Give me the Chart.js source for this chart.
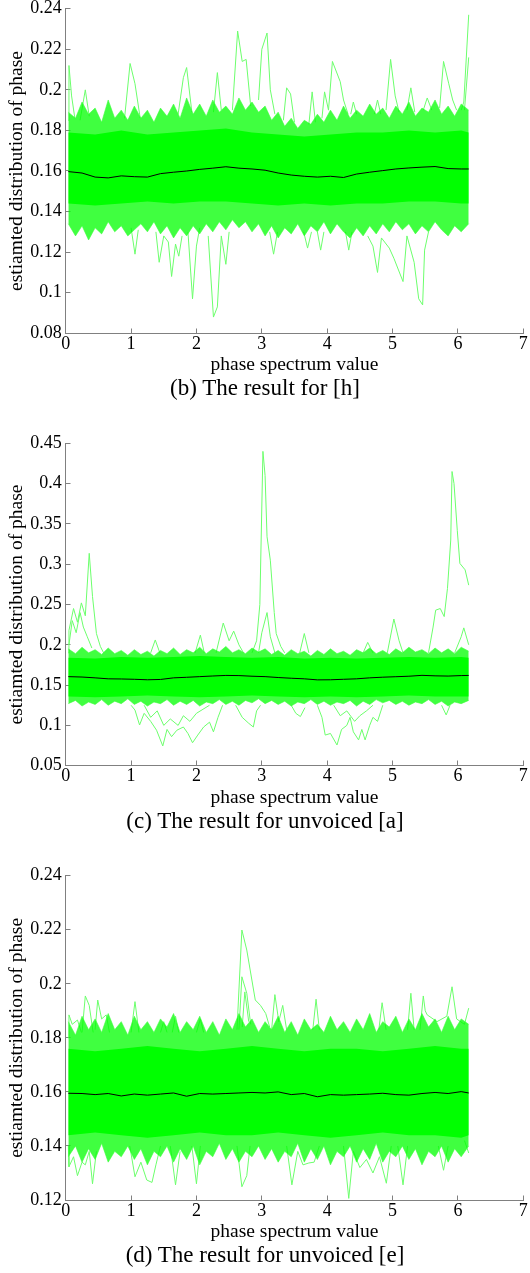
<!DOCTYPE html>
<html>
<head>
<meta charset="utf-8">
<title>estimated phase distribution</title>
<script src="https://cdn.jsdelivr.net/npm/chart.js@4.4.1/dist/chart.umd.min.js"></script>
<style>
  html, body { margin: 0; padding: 0; background: #fff; }
  body { position: relative; width: 530px; height: 1273px; overflow: hidden; }
  canvas { position: absolute; left: 0; }
  .caption {
    position: absolute; left: 0; width: 530px; text-align: center; white-space: nowrap;
    font-family: 'Liberation Serif', 'Times New Roman', serif; font-size: 23px; line-height: 23px; color: #000;
  }
</style>
</head>
<body>
<canvas id="chartH" width="530" height="377" style="top:0px"></canvas>
<div class="caption" style="top:376px">(b) The result for [h]</div>
<canvas id="chartA" width="530" height="376" style="top:434px"></canvas>
<div class="caption" style="top:809px">(c) The result for unvoiced [a]</div>
<canvas id="chartE" width="530" height="378" style="top:866px"></canvas>
<div class="caption" style="top:1243px">(d) The result for unvoiced [e]</div>

<script>
// ---------- axis ticks ----------
const xTickValues = [0, 1, 2, 3, 4, 5, 6, 7];
const xTickLabels = ['0', '1', '2', '3', '4', '5', '6', '7'];
const hTickValues = [0.08, 0.10, 0.12, 0.14, 0.16, 0.18, 0.20, 0.22, 0.24];
const hTickLabels = ['0.08', '0.1', '0.12', '0.14', '0.16', '0.18', '0.2', '0.22', '0.24'];
const aTickValues = [0.05, 0.10, 0.15, 0.20, 0.25, 0.30, 0.35, 0.40, 0.45];
const aTickLabels = ['0.05', '0.1', '0.15', '0.2', '0.25', '0.3', '0.35', '0.4', '0.45'];
const eTickValues = [0.12, 0.14, 0.16, 0.18, 0.20, 0.22, 0.24];
const eTickLabels = ['0.12', '0.14', '0.16', '0.18', '0.2', '0.22', '0.24'];

// ---------- phase positions (x) ----------
const phaseX = [0.04,0.15,0.25,0.35,0.45,0.55,0.65,0.75,0.85,0.95,1.05,1.15,1.25,1.35,1.45,1.55,1.65,1.75,1.85,1.95,
  2.05,2.15,2.25,2.35,2.45,2.55,2.65,2.75,2.85,2.95,3.05,3.15,3.25,3.35,3.45,3.55,3.65,3.75,3.85,3.95,
  4.05,4.15,4.25,4.35,4.45,4.55,4.65,4.75,4.85,4.95,5.05,5.15,5.25,5.35,5.45,5.55,5.65,5.75,5.85,5.95,6.05,6.165];
const coreX = [0.04,0.45,0.85,1.25,1.65,2.05,2.45,2.85,3.25,3.65,4.05,4.45,4.85,5.25,5.65,6.05,6.165];
const meanX = [0.04,0.25,0.45,0.65,0.85,1.05,1.25,1.45,1.65,1.85,2.05,2.25,2.45,2.65,2.85,3.05,
  3.25,3.45,3.65,3.85,4.05,4.25,4.45,4.65,4.85,5.05,5.25,5.45,5.65,5.85,6.05,6.165];

// ---------- (b) [h] ----------
const hOuterHi = [0.189,0.186,0.194,0.188,0.191,0.184,0.195,0.186,0.190,0.185,
  0.192,0.186,0.190,0.184,0.191,0.187,0.193,0.186,0.196,0.188,
  0.193,0.187,0.195,0.189,0.192,0.188,0.196,0.190,0.194,0.189,
  0.192,0.185,0.189,0.182,0.186,0.181,0.185,0.183,0.188,0.184,
  0.190,0.185,0.192,0.186,0.190,0.187,0.193,0.188,0.191,0.186,
  0.192,0.188,0.194,0.187,0.191,0.189,0.195,0.188,0.192,0.187,0.193,0.190];
const hOuterLo = [0.134,0.128,0.133,0.126,0.132,0.129,0.135,0.130,0.133,0.128,
  0.131,0.134,0.130,0.135,0.129,0.133,0.127,0.132,0.128,0.133,
  0.129,0.134,0.130,0.135,0.131,0.136,0.132,0.135,0.130,0.134,
  0.128,0.133,0.127,0.132,0.129,0.134,0.128,0.133,0.130,0.135,
  0.129,0.134,0.130,0.127,0.132,0.128,0.133,0.129,0.134,0.130,
  0.135,0.131,0.134,0.129,0.133,0.130,0.135,0.131,0.128,0.133,0.130,0.134];
const hCoreHi = [0.179,0.178,0.180,0.178,0.179,0.180,0.181,0.179,0.178,0.177,0.178,0.179,0.179,0.180,0.179,0.180,0.179];
const hCoreLo = [0.144,0.143,0.144,0.145,0.144,0.145,0.145,0.144,0.143,0.144,0.143,0.144,0.144,0.145,0.145,0.144,0.144];
const hMean = [0.1597,0.1590,0.1570,0.1566,0.1576,0.1572,0.1570,0.1587,0.1594,0.1600,
  0.1608,0.1614,0.1621,0.1614,0.1610,0.1604,0.1590,0.1580,0.1574,0.1570,
  0.1574,0.1568,0.1585,0.1594,0.1602,0.1610,0.1615,0.1619,0.1622,0.1612,0.1610,0.1610];
const hSpikes = [
  [[0.04,0.185],[0.05,0.212],[0.09,0.197],[0.14,0.186]],
  [[0.22,0.185],[0.30,0.200],[0.36,0.187]],
  [[0.90,0.186],[0.985,0.213],[1.06,0.203],[1.14,0.186]],
  [[1.72,0.188],[1.80,0.206],[1.85,0.211],[1.93,0.189]],
  [[2.26,0.189],[2.32,0.2085],[2.38,0.190]],
  [[2.55,0.190],[2.63,0.229],[2.70,0.214],[2.76,0.215],[2.83,0.192]],
  [[2.95,0.195],[3.00,0.220],[3.08,0.228],[3.13,0.200],[3.20,0.188]],
  [[3.33,0.185],[3.38,0.201],[3.44,0.198],[3.50,0.184]],
  [[3.72,0.183],[3.77,0.199],[3.82,0.184]],
  [[3.92,0.186],[3.96,0.199],[4.02,0.190],[4.08,0.214],[4.20,0.204],[4.25,0.195],[4.32,0.188]],
  [[4.36,0.188],[4.40,0.194],[4.45,0.188]],
  [[4.72,0.188],[4.77,0.195],[4.82,0.188]],
  [[4.90,0.190],[4.97,0.215],[5.04,0.197],[5.10,0.189]],
  [[5.22,0.190],[5.28,0.201],[5.34,0.189]],
  [[5.47,0.190],[5.53,0.196],[5.60,0.190]],
  [[5.72,0.191],[5.78,0.214],[5.86,0.203],[5.92,0.195],[5.98,0.190]],
  [[6.05,0.190],[6.09,0.194],[6.165,0.237]],
  [[6.10,0.190],[6.165,0.216]],
  [[1.00,0.132],[1.06,0.119],[1.11,0.131]],
  [[1.38,0.130],[1.43,0.115],[1.50,0.128],[1.57,0.125],[1.62,0.108],[1.68,0.124],[1.73,0.118],[1.78,0.128]],
  [[1.87,0.130],[1.94,0.097],[2.00,0.123],[2.05,0.132]],
  [[2.18,0.128],[2.26,0.088],[2.32,0.093],[2.38,0.128],[2.45,0.114],[2.50,0.130]],
  [[3.12,0.130],[3.18,0.119],[3.24,0.130]],
  [[3.64,0.130],[3.70,0.122],[3.76,0.130]],
  [[3.85,0.130],[3.90,0.121],[3.95,0.130]],
  [[4.28,0.130],[4.33,0.121],[4.38,0.130]],
  [[4.62,0.128],[4.70,0.123],[4.77,0.110],[4.83,0.127],[4.95,0.122],[5.02,0.117],[5.16,0.1055],[5.22,0.128],
   [5.33,0.115],[5.40,0.097],[5.46,0.094],[5.49,0.121],[5.55,0.130]]
];

// ---------- (c) unvoiced [a] ----------
const aOuterHi = [0.195,0.189,0.197,0.190,0.194,0.188,0.196,0.189,0.193,0.187,
  0.194,0.188,0.192,0.186,0.193,0.189,0.196,0.188,0.194,0.190,
  0.197,0.189,0.195,0.191,0.198,0.190,0.194,0.189,0.196,0.191,
  0.195,0.188,0.193,0.187,0.194,0.189,0.192,0.186,0.193,0.188,
  0.195,0.189,0.192,0.187,0.194,0.190,0.196,0.189,0.193,0.188,
  0.195,0.190,0.197,0.191,0.194,0.189,0.196,0.190,0.195,0.189,0.197,0.192];
const aOuterLo = [0.127,0.131,0.124,0.129,0.126,0.132,0.125,0.130,0.127,0.133,
  0.126,0.130,0.124,0.129,0.127,0.132,0.125,0.130,0.126,0.131,
  0.124,0.129,0.127,0.132,0.126,0.130,0.125,0.131,0.128,0.133,
  0.127,0.131,0.126,0.130,0.124,0.129,0.127,0.132,0.126,0.130,
  0.125,0.129,0.127,0.131,0.124,0.130,0.126,0.132,0.128,0.131,
  0.126,0.130,0.125,0.129,0.127,0.132,0.126,0.130,0.124,0.129,0.127,0.131];
const aCoreHi = [0.184,0.183,0.185,0.184,0.185,0.186,0.185,0.184,0.185,0.183,0.184,0.183,0.184,0.185,0.184,0.185,0.184];
const aCoreLo = [0.136,0.135,0.136,0.137,0.136,0.135,0.136,0.137,0.136,0.135,0.136,0.135,0.136,0.137,0.136,0.136,0.136];
const aMean = [0.1605,0.1600,0.1590,0.1578,0.1576,0.1572,0.1566,0.1570,0.1590,0.1597,
  0.1605,0.1613,0.1620,0.1618,0.1610,0.1605,0.1594,0.1585,0.1578,0.1565,
  0.1566,0.1572,0.1578,0.1590,0.1598,0.1604,0.1610,0.1621,0.1615,0.1612,0.1618,0.1620];
const aSpikes = [
  [[0.04,0.190],[0.05,0.218],[0.12,0.245],[0.18,0.228],[0.24,0.252],[0.30,0.236],[0.36,0.3135],[0.41,0.260],
   [0.47,0.214],[0.53,0.198],[0.58,0.190]],
  [[0.05,0.200],[0.10,0.230],[0.16,0.215],[0.22,0.240],[0.27,0.222],[0.33,0.210],[0.40,0.196]],
  [[1.30,0.190],[1.37,0.206],[1.44,0.190]],
  [[1.98,0.190],[2.06,0.212],[2.12,0.190]],
  [[2.30,0.190],[2.41,0.227],[2.50,0.205],[2.57,0.217],[2.65,0.200],[2.72,0.190]],
  [[2.85,0.190],[2.92,0.205],[2.97,0.250],[3.017,0.440],[3.05,0.410],[3.08,0.334],[3.13,0.305],[3.19,0.240],
   [3.22,0.214],[3.29,0.198],[3.35,0.190]],
  [[2.95,0.190],[3.00,0.215],[3.08,0.240],[3.13,0.210],[3.20,0.190]],
  [[3.58,0.190],[3.65,0.214],[3.72,0.190]],
  [[4.55,0.190],[4.62,0.203],[4.70,0.190]],
  [[4.92,0.190],[5.02,0.232],[5.10,0.205],[5.16,0.190]],
  [[5.55,0.190],[5.62,0.222],[5.66,0.243],[5.73,0.245],[5.79,0.235],[5.84,0.270],[5.89,0.330],[5.91,0.415],
   [5.94,0.400],[5.99,0.342],[6.03,0.301],[6.11,0.293],[6.165,0.274]],
  [[5.95,0.190],[6.05,0.210],[6.09,0.221],[6.165,0.200]],
  [[1.00,0.125],[1.06,0.119],[1.13,0.1005],[1.20,0.115],[1.30,0.105],[1.39,0.094],[1.485,0.0745],[1.55,0.095],
   [1.62,0.086],[1.70,0.094],[1.80,0.098],[1.87,0.090],[1.94,0.0785],[2.02,0.088],[2.11,0.098],[2.20,0.104],
   [2.26,0.092],[2.33,0.110],[2.40,0.125]],
  [[1.20,0.125],[1.30,0.110],[1.40,0.118],[1.50,0.100],[1.60,0.108],[1.72,0.100],[1.80,0.112],[1.90,0.105],
   [2.00,0.115],[2.10,0.120],[2.20,0.125]],
  [[2.60,0.125],[2.70,0.110],[2.80,0.1026],[2.87,0.098],[2.92,0.118],[2.98,0.125]],
  [[3.45,0.125],[3.52,0.115],[3.59,0.111],[3.66,0.122]],
  [[3.85,0.125],[3.92,0.110],[3.97,0.088],[4.05,0.090],[4.15,0.0757],[4.22,0.095],[4.30,0.100],[4.35,0.110],
   [4.40,0.092],[4.48,0.082],[4.53,0.095],[4.58,0.082],[4.65,0.100],[4.70,0.110],[4.77,0.105],[4.85,0.125]],
  [[4.10,0.125],[4.20,0.112],[4.30,0.118],[4.42,0.105],[4.50,0.112],[4.60,0.118],[4.70,0.125]],
  [[5.75,0.125],[5.82,0.113],[5.88,0.125]]
];

// ---------- (d) unvoiced [e] ----------
const eOuterHi = [0.186,0.181,0.188,0.183,0.187,0.182,0.189,0.183,0.186,0.181,
  0.188,0.183,0.186,0.182,0.187,0.184,0.189,0.182,0.186,0.183,
  0.188,0.182,0.186,0.181,0.187,0.183,0.189,0.184,0.187,0.182,
  0.186,0.183,0.188,0.182,0.186,0.181,0.187,0.183,0.185,0.182,
  0.188,0.183,0.186,0.182,0.187,0.183,0.189,0.182,0.186,0.184,
  0.188,0.182,0.187,0.183,0.189,0.184,0.187,0.182,0.188,0.183,0.187,0.185];
const eOuterLo = [0.136,0.140,0.134,0.139,0.135,0.141,0.134,0.138,0.136,0.140,
  0.135,0.139,0.133,0.138,0.136,0.140,0.134,0.139,0.135,0.140,
  0.133,0.138,0.136,0.141,0.135,0.139,0.134,0.138,0.136,0.140,
  0.135,0.139,0.134,0.138,0.136,0.141,0.134,0.139,0.135,0.140,
  0.133,0.138,0.136,0.140,0.134,0.139,0.135,0.141,0.134,0.138,
  0.136,0.140,0.135,0.139,0.133,0.138,0.136,0.140,0.134,0.139,0.136,0.140];
const eCoreHi = [0.176,0.175,0.176,0.177,0.176,0.175,0.176,0.177,0.176,0.175,0.176,0.176,0.175,0.176,0.177,0.176,0.176];
const eCoreLo = [0.144,0.145,0.144,0.143,0.144,0.145,0.144,0.144,0.145,0.144,0.143,0.144,0.145,0.144,0.144,0.143,0.144];
const eMean = [0.1595,0.1594,0.1590,0.1594,0.1585,0.1592,0.1588,0.1592,0.1596,0.1584,
  0.1594,0.1592,0.1594,0.1596,0.1598,0.1596,0.1600,0.1590,0.1594,0.1582,
  0.1590,0.1588,0.1590,0.1592,0.1595,0.1590,0.1588,0.1594,0.1598,0.1594,0.1601,0.1596];
const eSpikes = [
  [[0.04,0.180],[0.05,0.1885],[0.10,0.185],[0.18,0.1866],[0.24,0.182]],
  [[0.25,0.182],[0.30,0.1955],[0.36,0.192],[0.42,0.182]],
  [[0.45,0.183],[0.49,0.194],[0.55,0.187],[0.62,0.1885],[0.67,0.182]],
  [[1.00,0.182],[1.06,0.1934],[1.12,0.182]],
  [[1.45,0.182],[1.50,0.186],[1.55,0.182]],
  [[1.63,0.182],[1.68,0.188],[1.73,0.182]],
  [[2.00,0.182],[2.06,0.187],[2.11,0.182]],
  [[2.62,0.183],[2.695,0.2199],[2.77,0.2125],[2.90,0.194],[2.98,0.192],[3.06,0.189],[3.12,0.184]],
  [[2.65,0.183],[2.695,0.2026],[2.77,0.1965],[2.83,0.185]],
  [[2.70,0.184],[2.74,0.197],[2.80,0.186]],
  [[3.15,0.183],[3.20,0.196],[3.26,0.186],[3.32,0.192],[3.38,0.183]],
  [[3.78,0.183],[3.83,0.1943],[3.88,0.183]],
  [[4.79,0.183],[4.84,0.193],[4.90,0.183]],
  [[5.23,0.183],[5.28,0.1965],[5.33,0.183]],
  [[5.42,0.183],[5.47,0.1955],[5.50,0.190],[5.53,0.1885],[5.68,0.186],[5.83,0.188],[5.91,0.1989],[5.98,0.187],
   [6.10,0.185],[6.165,0.191]],
  [[0.04,0.140],[0.05,0.1323],[0.12,0.136],[0.18,0.129],[0.25,0.134],[0.30,0.133],[0.36,0.138],[0.41,0.126],[0.47,0.138]],
  [[0.98,0.140],[1.06,0.1286],[1.15,0.134],[1.24,0.1274],[1.32,0.1265],[1.38,0.133],[1.45,0.140]],
  [[1.60,0.140],[1.68,0.1256],[1.75,0.138]],
  [[1.93,0.140],[2.00,0.126],[2.06,0.140]],
  [[2.62,0.140],[2.695,0.1249],[2.77,0.129],[2.82,0.140]],
  [[3.38,0.140],[3.46,0.1256],[3.55,0.138],[3.63,0.133],[3.72,0.1337],[3.80,0.134],[3.88,0.140]],
  [[4.25,0.140],[4.33,0.1206],[4.40,0.138],[4.50,0.132],[4.60,0.135],[4.70,0.130],[4.80,0.136],[4.905,0.1262],[4.98,0.140]],
  [[5.08,0.140],[5.16,0.1256],[5.23,0.140]],
  [[5.70,0.140],[5.78,0.131],[5.85,0.140]],
  [[6.10,0.142],[6.165,0.1374]]
];

// ---------- styling ----------
const AXIS_GREY = '#808080';
const SERIF = "'Liberation Serif', 'Times New Roman', serif";
const CORE_GREEN = '#00ff00';
const FRINGE_GREEN = 'rgba(0, 255, 0, 0.75)';
const FRINGE_EDGE = 'rgba(60, 255, 60, 0.6)';
const SPIKE_GREEN = '#6cff6c';

// inward tick marks, drawn under the data like MATLAB's default axes layer
const innerTicks = {
  id: 'innerTicks',
  beforeDatasetsDraw(chart) {
    const { ctx, chartArea, scales } = chart;
    ctx.save();
    ctx.strokeStyle = AXIS_GREY;
    ctx.lineWidth = 1;
    ctx.beginPath();
    scales.x.ticks.forEach(t => {
      const px = Math.round(scales.x.getPixelForValue(t.value) - 0.5) + 0.5;
      const base = Math.round(chartArea.bottom - 0.5) + 0.5;
      ctx.moveTo(px, base);
      ctx.lineTo(px, base - 5);
    });
    scales.y.ticks.forEach(t => {
      const py = Math.round(scales.y.getPixelForValue(t.value) - 0.5) + 0.5;
      const base = Math.round(chartArea.left - 0.5) + 0.5;
      ctx.moveTo(base, py);
      ctx.lineTo(base + 5, py);
    });
    ctx.stroke();
    ctx.restore();
  }
};

function toPoints(xs, ys) {
  return xs.map((x, i) => ({ x: x, y: ys[i] }));
}

function buildDatasets(p) {
  const sets = [];
  p.spikes.forEach(trace => {
    sets.push({
      data: trace.map(pt => ({ x: pt[0], y: pt[1] })),
      borderColor: SPIKE_GREEN, borderWidth: 1, fill: false, order: 6
    });
  });
  sets.push({ data: toPoints(phaseX, p.outerLo), borderColor: FRINGE_EDGE, borderWidth: 1, fill: false, order: 5 });
  sets.push({ data: toPoints(phaseX, p.outerHi), borderColor: FRINGE_EDGE, borderWidth: 1,
              backgroundColor: FRINGE_GREEN, fill: '-1', order: 5 });
  sets.push({ data: toPoints(coreX, p.coreLo), borderColor: 'rgba(0,0,0,0)', borderWidth: 0, fill: false, order: 4 });
  sets.push({ data: toPoints(coreX, p.coreHi), borderColor: 'rgba(0,0,0,0)', borderWidth: 0,
              backgroundColor: CORE_GREEN, fill: '-1', order: 4 });
  sets.push({ data: toPoints(meanX, p.mean), borderColor: '#000000', borderWidth: 1, fill: false, order: 1 });
  return sets;
}

function makeChart(p) {
  const canvas = document.getElementById(p.id);
  const padTop = p.plotTop - p.top;
  const xAxisHeight = p.top + canvas.height - p.plotBottom;

  return new Chart(canvas.getContext('2d'), {
    type: 'line',
    data: { datasets: buildDatasets(p) },
    options: {
      responsive: false,
      animation: false,
      devicePixelRatio: 1,
      events: [],
      layout: { padding: { top: padTop, left: 0, right: 530 - 523.3, bottom: 0 } },
      elements: { point: { radius: 0 }, line: { tension: 0 } },
      plugins: { legend: { display: false }, tooltip: { enabled: false } },
      scales: {
        x: {
          type: 'linear', min: 0, max: 7,
          grid: { display: false, drawTicks: false },
          border: { display: true, color: AXIS_GREY, width: 1 },
          ticks: {
            color: '#000', padding: 0, maxRotation: 0, autoSkip: false,
            font: { family: SERIF, size: 18 },
            callback: v => xTickLabels[xTickValues.indexOf(v)]
          },
          title: {
            display: true, text: 'phase spectrum value', color: '#000',
            font: { family: SERIF, size: 19.5 }, padding: { top: 0, bottom: 0 }
          },
          afterBuildTicks: s => { s.ticks = xTickValues.map(v => ({ value: v })); },
          afterFit: s => { s.height = xAxisHeight; s.paddingLeft = 0; s.paddingRight = 0; }
        },
        y: {
          type: 'linear', min: p.tickValues[0], max: p.tickValues[p.tickValues.length - 1],
          grid: { display: false, drawTicks: false },
          border: { display: true, color: AXIS_GREY, width: 1 },
          ticks: {
            color: '#000', padding: 4,
            font: { family: SERIF, size: 18 },
            callback: v => p.tickLabels[p.tickValues.indexOf(v)]
          },
          title: {
            display: true, text: 'estiamted distribution of phase', color: '#000',
            font: { family: SERIF, size: 19.5 }, padding: { top: 5, bottom: 0 }
          },
          afterBuildTicks: s => { s.ticks = p.tickValues.map(v => ({ value: v })); },
          afterFit: s => { s.width = 65.7; s.paddingTop = 0; s.paddingBottom = 0; }
        }
      }
    },
    plugins: [innerTicks]
  });
}

makeChart({ id: 'chartH', top: 0, plotTop: 8.7, plotBottom: 333.3,
  tickValues: hTickValues, tickLabels: hTickLabels,
  outerHi: hOuterHi, outerLo: hOuterLo, coreHi: hCoreHi, coreLo: hCoreLo, mean: hMean, spikes: hSpikes });

makeChart({ id: 'chartA', top: 434, plotTop: 443.3, plotBottom: 765.7,
  tickValues: aTickValues, tickLabels: aTickLabels,
  outerHi: aOuterHi, outerLo: aOuterLo, coreHi: aCoreHi, coreLo: aCoreLo, mean: aMean, spikes: aSpikes });

makeChart({ id: 'chartE', top: 866, plotTop: 875.7, plotBottom: 1200,
  tickValues: eTickValues, tickLabels: eTickLabels,
  outerHi: eOuterHi, outerLo: eOuterLo, coreHi: eCoreHi, coreLo: eCoreLo, mean: eMean, spikes: eSpikes });
</script>
</body>
</html>
